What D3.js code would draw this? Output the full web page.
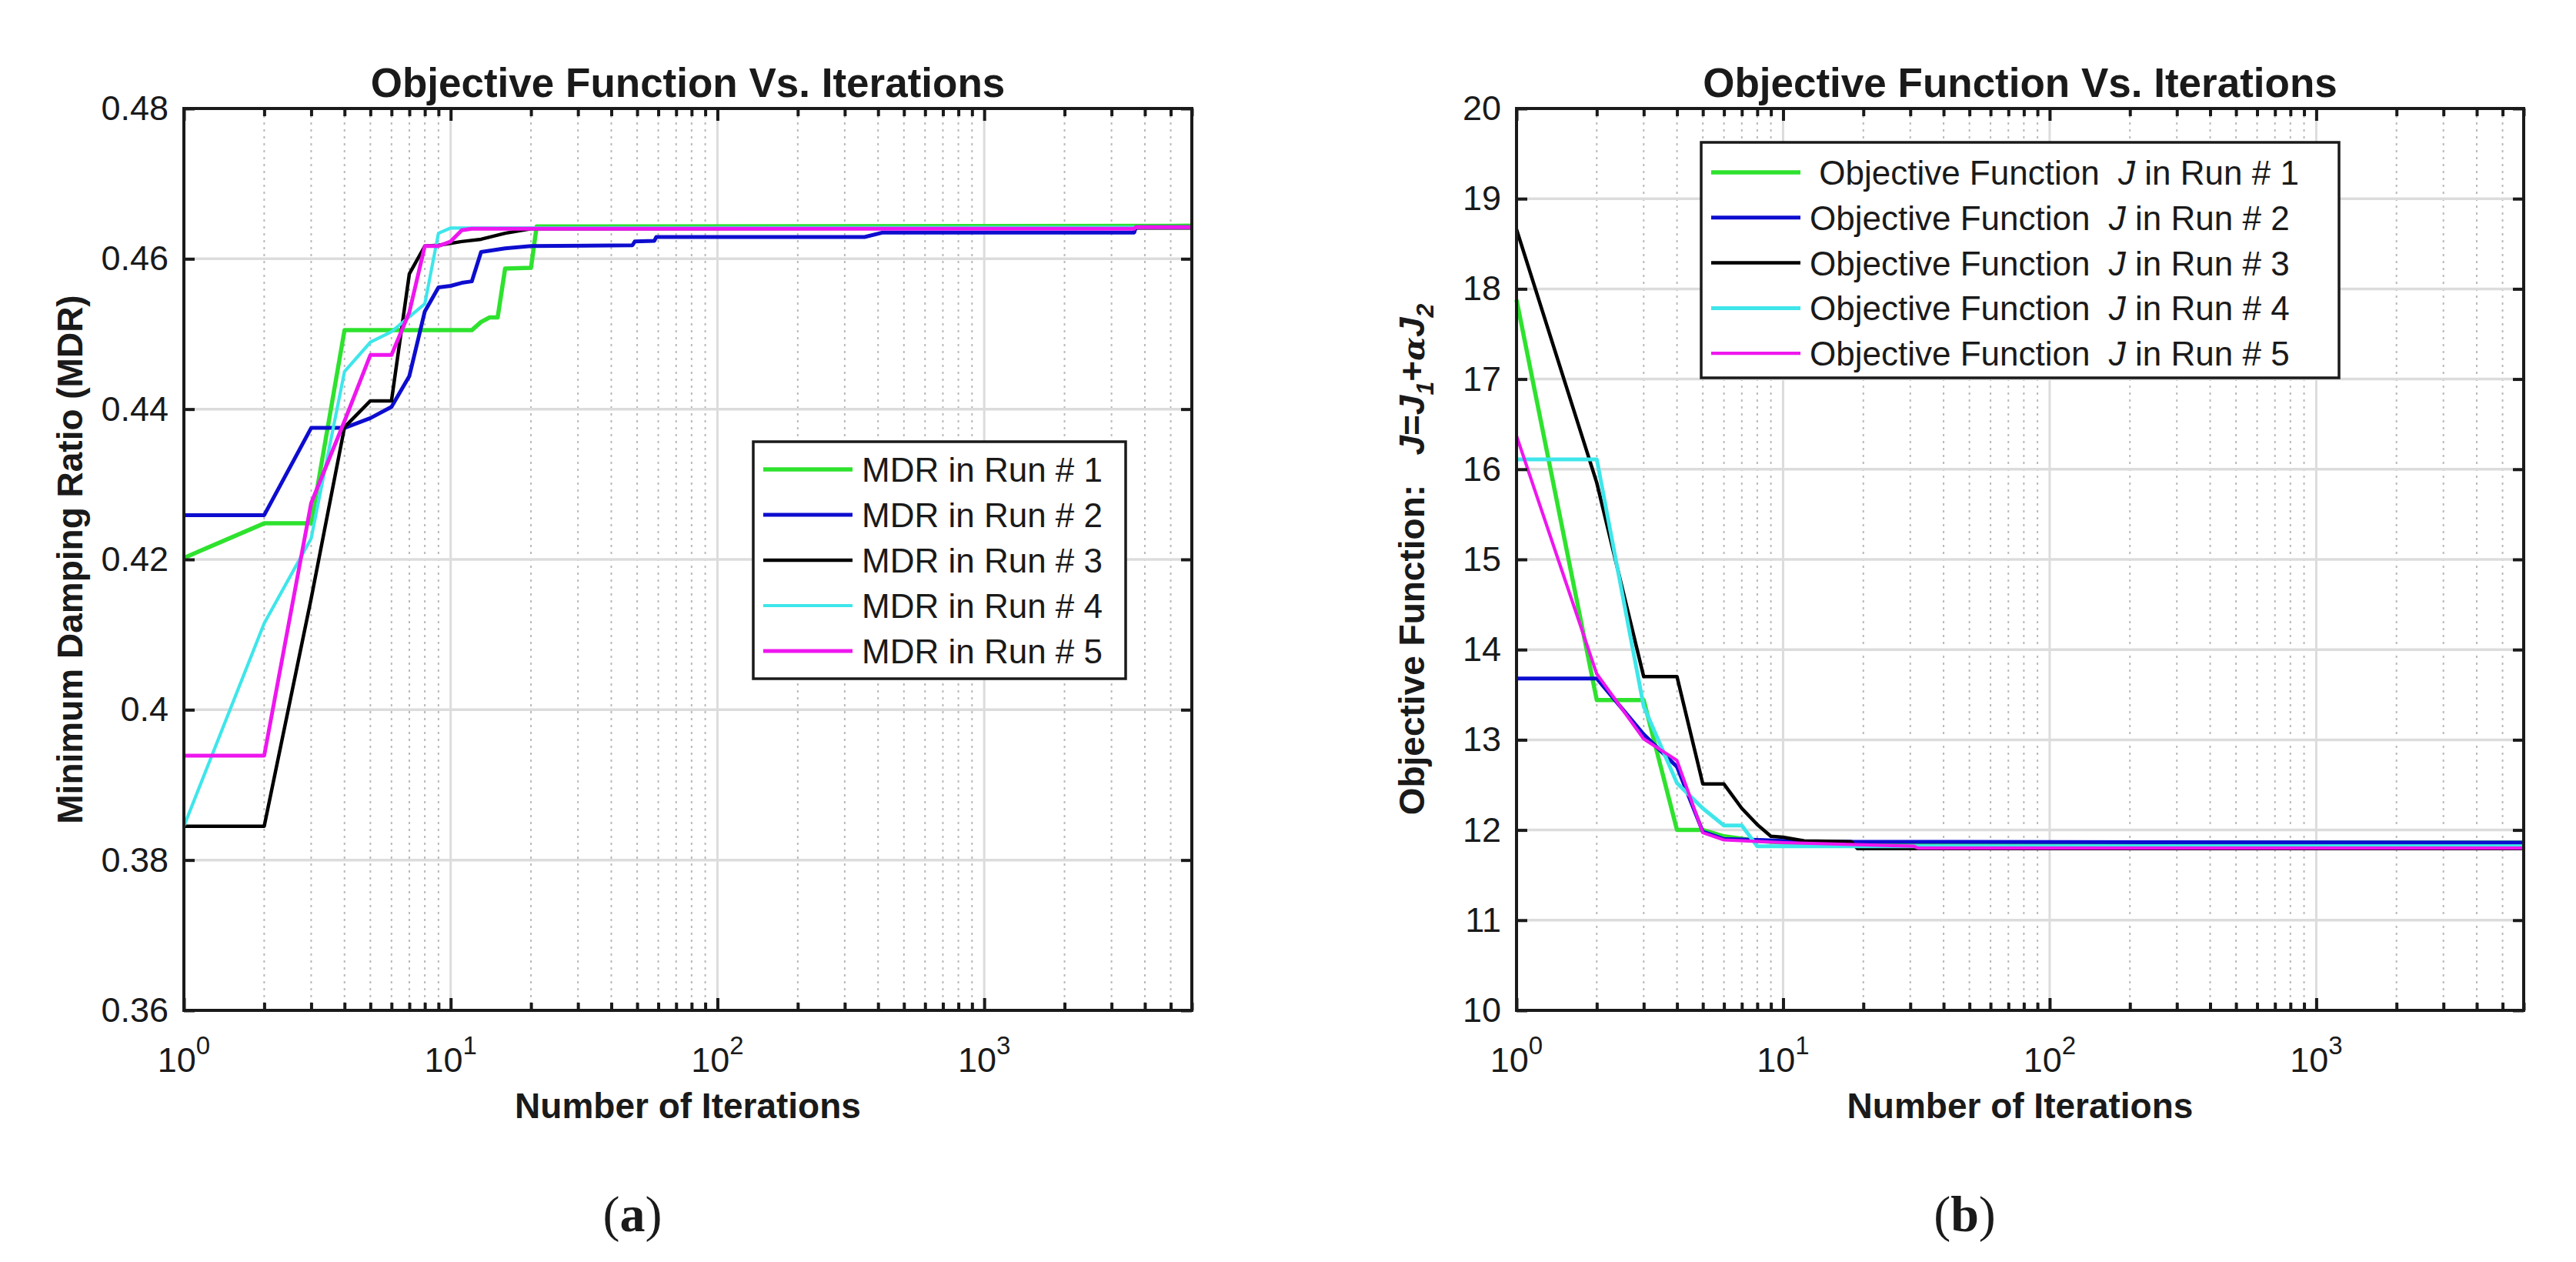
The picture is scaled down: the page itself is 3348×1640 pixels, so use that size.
<!DOCTYPE html>
<html>
<head>
<meta charset="utf-8">
<script src="https://cdnjs.cloudflare.com/ajax/libs/d3/7.8.5/d3.min.js"></script>
<style>
  body { margin: 0; background: #fff; }
  text { font-family: "Liberation Sans", Arial, sans-serif; fill: #1a1a1a; }
</style>
</head>
<body>
<script>

// ---- data ----
var iterMax = 6000;
var runNames = ['Run # 1', 'Run # 2', 'Run # 3', 'Run # 4', 'Run # 5'];
var runColors = ['#2ee22e', '#0d0dcf', '#000000', '#3ee6ea', '#ee16ee'];

var xTickValues = [1, 10, 100, 1000];
var xTickExponents = ['0', '1', '2', '3'];

var mdrTicks = [0.36, 0.38, 0.40, 0.42, 0.44, 0.46, 0.48];
var mdrTickLabels = ['0.36', '0.38', '0.4', '0.42', '0.44', '0.46', '0.48'];
var jTicks = [10, 11, 12, 13, 14, 15, 16, 17, 18, 19, 20];

// (a) minimum damping ratio, [iteration, value]
var mdrRun1 = [[1, 0.4202], [2, 0.4248], [3, 0.4248], [4, 0.4505], [12, 0.4505], [13, 0.4516],
    [14, 0.4522], [15, 0.4522], [16, 0.4587], [20, 0.4588], [21, 0.4643], [6000, 0.4644]];
var mdrRun2 = [[1, 0.4259], [2, 0.4259], [3, 0.4375], [4, 0.4375], [5, 0.4388], [6, 0.4403],
    [7, 0.4444], [8, 0.4530], [9, 0.4562], [10, 0.4564], [11, 0.4568], [12, 0.4570], [13, 0.4609],
    [16, 0.4614], [20, 0.4617], [48, 0.4618], [49, 0.4623], [58, 0.4624], [59, 0.4629],
    [356, 0.4629], [417, 0.4635], [3650, 0.4635], [3700, 0.4642], [6000, 0.4642]];
var mdrRun3 = [[1, 0.3845], [2, 0.3845], [3, 0.4148], [4, 0.4376], [5, 0.4411], [6, 0.4411],
    [7, 0.4580], [8, 0.4617], [9, 0.4618], [11, 0.4623], [13, 0.4626], [16, 0.4634],
    [20, 0.4640], [6000, 0.4641]];
var mdrRun4 = [[1, 0.3845], [2, 0.4115], [3, 0.4228], [4, 0.4450], [5, 0.4489], [6, 0.4503],
    [7, 0.4523], [8, 0.4540], [9, 0.4634], [10, 0.4641], [6000, 0.4642]];
var mdrRun5 = [[1, 0.3939], [2, 0.3939], [3, 0.4275], [4, 0.4384], [5, 0.4472], [6, 0.4472],
    [7, 0.4529], [8, 0.4617], [9, 0.4617], [10, 0.4623], [11, 0.4638], [12, 0.4640],
    [3650, 0.4640], [3700, 0.4642], [6000, 0.4642]];

// (b) objective function J, [iteration, value]
var jRun1 = [[1, 17.88], [2, 13.44], [3, 13.44], [4, 12.00], [5, 12.00], [6, 11.93],
    [8, 11.88], [10, 11.86], [6000, 11.86]];
var jRun2 = [[1, 13.68], [2, 13.68], [3, 13.06], [4, 12.70], [5, 11.98], [6, 11.90],
    [8, 11.89], [12, 11.87], [6000, 11.86]];
var jRun3 = [[1, 18.66], [2, 15.85], [3, 13.70], [4, 13.70], [5, 12.51], [6, 12.51],
    [7, 12.24], [8, 12.06], [9, 11.93], [10, 11.92], [12, 11.88], [18, 11.87], [19, 11.795],
    [6000, 11.795]];
var jRun4 = [[1, 16.11], [2, 16.11], [3, 13.37], [4, 12.52], [5, 12.24], [6, 12.05],
    [7, 12.05], [8, 11.82], [6000, 11.82]];
var jRun5 = [[1, 16.37], [2, 13.73], [3, 13.01], [4, 12.77], [5, 11.97], [6, 11.89],
    [10, 11.86], [31, 11.82], [32, 11.80], [6000, 11.80]];

/*
 * 画布
 */
var svg = d3.select('body').append('svg')
    .attr('width', 3348)
    .attr('height', 1640);

function drawPanel(p) {
    var g = svg.append('g');

    var x = d3.scaleLog().domain([1, iterMax]).range([p.left, p.right]);
    var y = d3.scaleLinear().domain([p.yTicks[0], p.yTicks[p.yTicks.length - 1]])
        .range([p.bottom, p.top]);

    var minor = x.ticks().filter(function (t) { return xTickValues.indexOf(t) < 0; });

    // grid: minor dotted, major solid
    g.selectAll('.minor-grid').data(minor).enter().append('line')
        .attr('class', 'minor-grid')
        .attr('x1', x).attr('x2', x)
        .attr('y1', p.top).attr('y2', p.bottom)
        .attr('stroke', '#b9b9b9').attr('stroke-width', 2)
        .attr('stroke-dasharray', '3,6');
    g.selectAll('.major-xgrid').data(xTickValues).enter().append('line')
        .attr('class', 'major-xgrid')
        .attr('x1', x).attr('x2', x)
        .attr('y1', p.top).attr('y2', p.bottom)
        .attr('stroke', '#dcdcdc').attr('stroke-width', 3);
    g.selectAll('.major-ygrid').data(p.yTicks).enter().append('line')
        .attr('class', 'major-ygrid')
        .attr('x1', p.left).attr('x2', p.right)
        .attr('y1', y).attr('y2', y)
        .attr('stroke', '#dcdcdc').attr('stroke-width', 3.5);

    // series
    var line = d3.line()
        .x(function (d) { return x(d[0]); })
        .y(function (d) { return y(d[1]); });
    g.selectAll('.run').data(p.series).enter().append('path')
        .attr('class', 'run')
        .attr('d', line)
        .attr('fill', 'none')
        .attr('stroke', function (d, i) { return runColors[i]; })
        .attr('stroke-width', function (d, i) { return p.widths[i]; })
        .attr('stroke-linejoin', 'round');

    // axes, ticks pointing inside
    function styleAxis(sel) {
        sel.select('.domain').remove();
        sel.selectAll('.tick line').attr('stroke', '#1a1a1a').attr('stroke-width', 4);
        sel.selectAll('.tick text')
            .style('font-size', '45px')
            .style('font-family', '"Liberation Sans", Arial, sans-serif')
            .attr('fill', '#1a1a1a');
    }
    g.append('g').attr('transform', 'translate(0,' + p.bottom + ')')
        .call(d3.axisBottom(x).tickValues(minor).tickSize(-10).tickFormat('')).call(styleAxis);
    g.append('g').attr('transform', 'translate(0,' + p.bottom + ')')
        .call(d3.axisBottom(x).tickValues(xTickValues).tickSize(-16).tickFormat('')).call(styleAxis);
    g.append('g').attr('transform', 'translate(0,' + p.top + ')')
        .call(d3.axisTop(x).tickValues(minor).tickSize(-10).tickFormat('')).call(styleAxis);
    g.append('g').attr('transform', 'translate(0,' + p.top + ')')
        .call(d3.axisTop(x).tickValues(xTickValues).tickSize(-16).tickFormat('')).call(styleAxis);
    g.append('g').attr('transform', 'translate(' + p.left + ',0)')
        .call(d3.axisLeft(y).tickValues(p.yTicks).tickSize(-14).tickPadding(p.yPad)
            .tickFormat(function (d, i) { return p.yLabels[i]; }))
        .call(styleAxis);
    g.append('g').attr('transform', 'translate(' + p.right + ',0)')
        .call(d3.axisRight(y).tickValues(p.yTicks).tickSize(-14).tickFormat(''))
        .call(styleAxis);

    g.append('rect')
        .attr('x', p.left).attr('y', p.top)
        .attr('width', p.right - p.left).attr('height', p.bottom - p.top)
        .attr('fill', 'none').attr('stroke', '#1a1a1a').attr('stroke-width', 4);

    // x tick labels 10^n
    var xl = g.selectAll('.xlab').data(xTickValues).enter().append('text')
        .attr('class', 'xlab')
        .attr('x', x)
        .attr('y', p.bottom + 80)
        .attr('text-anchor', 'middle')
        .style('font-size', '45px');
    xl.append('tspan').text('10');
    xl.append('tspan').attr('dy', -23).style('font-size', '33px')
        .text(function (d, i) { return xTickExponents[i]; });

    // title, x label
    g.append('text')
        .attr('x', (p.left + p.right) / 2).attr('y', p.top - 15)
        .attr('text-anchor', 'middle')
        .style('font-size', '53px').style('font-weight', 'bold')
        .text('Objective Function Vs. Iterations');
    g.append('text')
        .attr('x', (p.left + p.right) / 2).attr('y', p.bottom + 140)
        .attr('text-anchor', 'middle')
        .style('font-size', '46px').style('font-weight', 'bold')
        .text('Number of Iterations');

    // y label
    var yl = g.append('text')
        .attr('transform', 'translate(' + p.yLabelX + ',' + ((p.top + p.bottom) / 2) + ') rotate(-90)')
        .attr('text-anchor', 'middle')
        .style('font-size', '46px').style('font-weight', 'bold')
        .style('white-space', 'pre');
    p.yLabel(yl);

    // legend
    var L = p.legend;
    g.append('rect')
        .attr('x', L.x).attr('y', L.y).attr('width', L.w).attr('height', L.h)
        .attr('fill', '#fff').attr('stroke', '#1a1a1a').attr('stroke-width', 3.5);
    var rows = g.selectAll('.leg').data(p.series).enter().append('g')
        .attr('class', 'leg')
        .attr('transform', function (d, i) {
            return 'translate(0,' + (L.y + L.first + i * L.step) + ')';
        });
    rows.append('line')
        .attr('x1', L.x + L.lineFrom).attr('x2', L.x + L.lineTo)
        .attr('y1', 0).attr('y2', 0)
        .attr('stroke', function (d, i) { return runColors[i]; })
        .attr('stroke-width', function (d, i) { return p.widths[i]; });
    var lt = rows.append('text')
        .attr('x', L.x + L.textX)
        .attr('y', 16)
        .style('font-size', '44px')
        .style('white-space', 'pre');
    L.label(lt);

    // caption
    var cap = g.append('text')
        .attr('x', (p.left + p.right) / 2 - 72).attr('y', 1600)
        .attr('text-anchor', 'middle')
        .style('font-family', '"Liberation Serif", "Times New Roman", serif')
        .style('font-size', '66px');
    cap.append('tspan').text('(');
    cap.append('tspan').style('font-weight', 'bold').text(p.caption);
    cap.append('tspan').text(')');
}

// (a)
drawPanel({
    left: 239, right: 1549, top: 141, bottom: 1313,
    yTicks: mdrTicks, yLabels: mdrTickLabels, yPad: 20,
    series: [mdrRun1, mdrRun2, mdrRun3, mdrRun4, mdrRun5],
    widths: [5.5, 5, 4.5, 4.2, 5],
    yLabelX: 107,
    yLabel: function (t) { t.text('Minimum Damping Ratio (MDR)'); },
    legend: {
        x: 979, y: 574, w: 484, h: 308, first: 36, step: 59,
        lineFrom: 13, lineTo: 129, textX: 141,
        label: function (t) { t.text(function (d, i) { return 'MDR in ' + runNames[i]; }); }
    },
    caption: 'a'
});

// (b)
drawPanel({
    left: 1971, right: 3280, top: 141, bottom: 1313,
    yTicks: jTicks, yLabels: jTicks.map(String), yPad: 20,
    series: [jRun1, jRun2, jRun3, jRun4, jRun5],
    widths: [5.5, 5, 4.5, 5, 4.2],
    yLabelX: 1851,
    yLabel: function (t) {
        t.append('tspan').text('Objective Function:   ');
        t.append('tspan').style('font-style', 'italic').text('J');
        t.append('tspan').text('=');
        t.append('tspan').style('font-style', 'italic').text('J');
        t.append('tspan').style('font-style', 'italic').style('font-size', '32px').attr('dy', 12).text('1');
        t.append('tspan').attr('dy', -12).text('+');
        t.append('tspan').style('font-style', 'italic').style('font-family', '"DejaVu Serif", serif').style('font-size', '40px').text('\u03b1');
        t.append('tspan').style('font-style', 'italic').text('J');
        t.append('tspan').style('font-style', 'italic').style('font-size', '32px').attr('dy', 12).text('2');
    },
    legend: {
        x: 2211, y: 185, w: 829, h: 306, first: 39, step: 58.8,
        lineFrom: 13, lineTo: 129, textX: 141,
        label: function (t) {
            t.append('tspan').text(function (d, i) { return i === 0 ? ' Objective Function  ' : 'Objective Function  '; });
            t.append('tspan').style('font-style', 'italic').text('J');
            t.append('tspan').text(function (d, i) { return ' in ' + runNames[i]; });
        }
    },
    caption: 'b'
});

</script>
</body>
</html>
